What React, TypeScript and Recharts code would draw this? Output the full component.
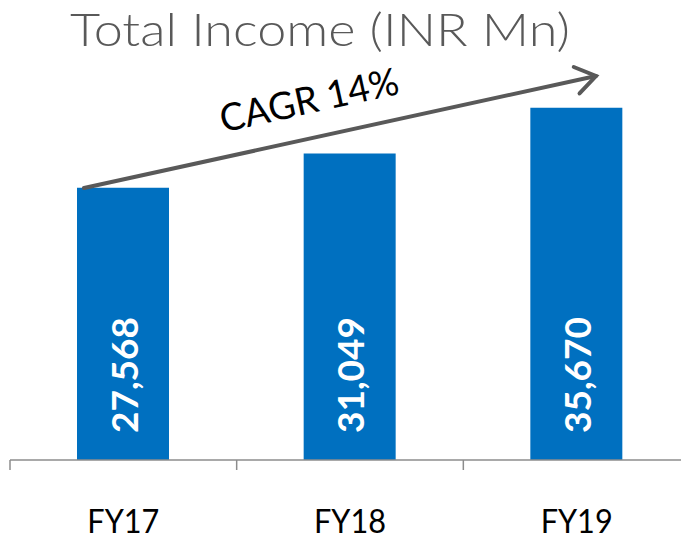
import React from 'react';
import { BarChart, Bar, XAxis, YAxis, LabelList } from 'recharts';

const categories = ['FY17', 'FY18', 'FY19'];
const totalIncome = [27568, 31049, 35670];
const valueLabels = ['27,568', '31,049', '35,670'];
const title = 'Total Income (INR Mn)';
const cagrLabel = 'CAGR 14%';

const data = categories.map((c, i) => ({ year: c, income: totalIncome[i], label: valueLabels[i] }));

const CHART_W = 690;
const CHART_H = 540;
const MARGIN = { top: 65, right: 0, left: 10, bottom: 30 };
const BAND = (CHART_W - MARGIN.left - MARGIN.right) / categories.length;

const AxisTick = (props: any) => {
  const { x, y, payload } = props;
  const bx = x - BAND / 2;
  return (
    <g>
      <line x1={bx} x2={bx} y1={y} y2={y + 10} stroke="#8c8c8c" strokeWidth={1.5} />
      <text x={x} y={y + 73} textAnchor="middle" fontFamily="Lato" fontSize={32} fill="#000" textLength={72} lengthAdjust="spacingAndGlyphs">
        {payload.value}
      </text>
    </g>
  );
};

const ValueLabel = (props: any) => {
  const { x, y, width, height, value } = props;
  const cx = x + width / 2;
  const by = y + height - 27;
  return (
    <text
      x={cx}
      y={by}
      transform={`rotate(-90 ${cx} ${by})`}
      fill="#ffffff"
      fontFamily="Lato"
      fontWeight={700}
      fontSize={37}
      textAnchor="start"
      dominantBaseline="central"
    >
      {value}
    </text>
  );
};

const Arrow = () => {
  const x1 = 84, y1 = 188, x2 = 596, y2 = 76;
  const ang = Math.atan2(y2 - y1, x2 - x1);
  const hl = 24;
  const a1 = ang + Math.PI - 0.6;
  const a2 = ang + Math.PI + 0.6;
  const deg = (ang * 180) / Math.PI;
  const tx = 312, ty = 113;
  return (
    <svg width={681} height={540} style={{ position: 'absolute', left: 0, top: 0, pointerEvents: 'none' }}>
      <text x={320} y={46} textAnchor="middle" fontFamily="Lato" fontWeight={300} fontSize={45} fill="#595959" textLength={500} lengthAdjust="spacingAndGlyphs">
        {title}
      </text>
      <line x1={x1} y1={y1} x2={x2} y2={y2} stroke="#595959" strokeWidth={4} strokeLinecap="round" />
      <polyline
        points={`${x2 + hl * Math.cos(a1)},${y2 + hl * Math.sin(a1)} ${x2},${y2} ${x2 + hl * Math.cos(a2)},${y2 + hl * Math.sin(a2)}`}
        fill="none"
        stroke="#595959"
        strokeWidth={4}
        strokeLinecap="round"
        strokeLinejoin="miter"
      />
      <text x={tx} y={ty} transform={`rotate(${deg} ${tx} ${ty})`} textAnchor="middle" fontFamily="Lato" fontSize={38} fill="#000" textLength={182} lengthAdjust="spacingAndGlyphs">
        {cagrLabel}
      </text>
    </svg>
  );
};

export default function App() {
  return (
    <div style={{ position: 'absolute', left: 0, top: 0, width: 681, height: 540, overflow: 'hidden', background: '#fff' }}>
      <BarChart width={CHART_W} height={CHART_H} data={data} margin={MARGIN} barCategoryGap={0}>
        <XAxis
          dataKey="year"
          axisLine={{ stroke: '#8c8c8c', strokeWidth: 1.5 }}
          tickLine={false}
          tickSize={0}
          tickMargin={0}
          height={50}
          tick={<AxisTick />}
          interval={0}
        />
        <YAxis hide domain={[0, 40000]} />
        <Bar dataKey="income" fill="#0070C0" barSize={92} isAnimationActive={false}>
          <LabelList dataKey="label" content={<ValueLabel />} />
        </Bar>
      </BarChart>
      <Arrow />
    </div>
  );
}
